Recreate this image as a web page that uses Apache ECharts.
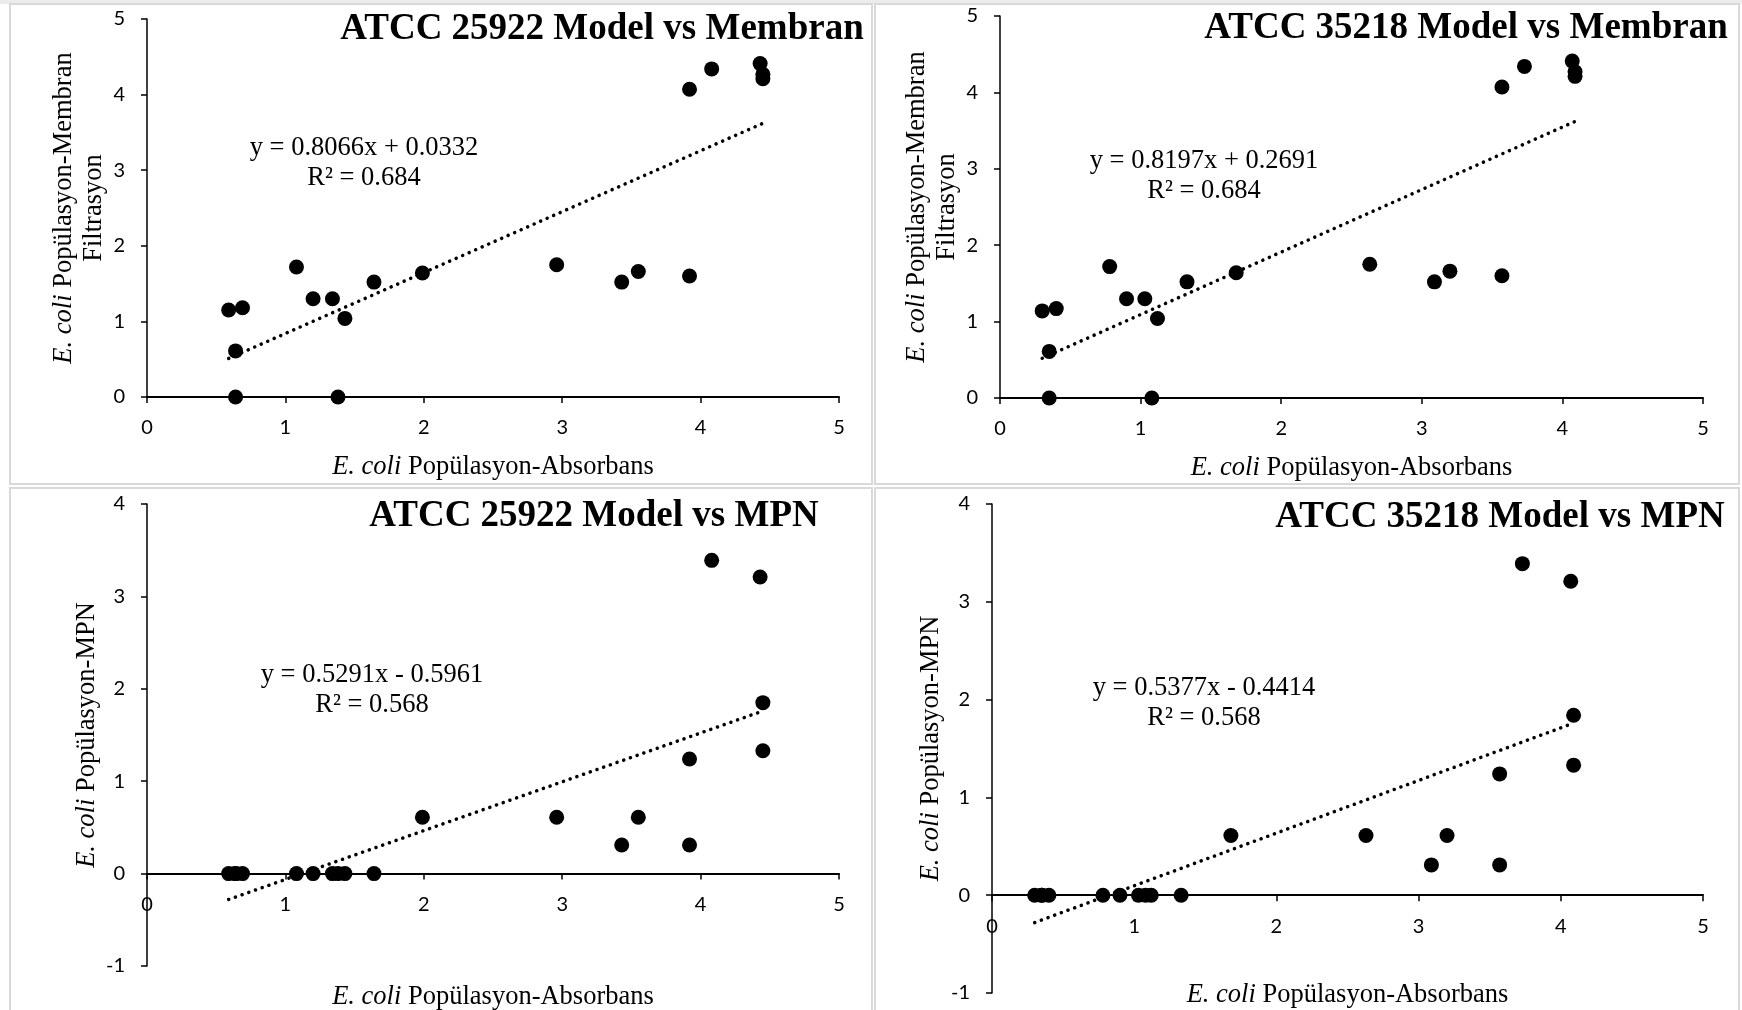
<!DOCTYPE html>
<html>
<head>
	<meta charset="utf-8">
	<title></title>
	<script src="https://cdn.jsdelivr.net/npm/echarts@6/dist/echarts.min.js"></script>
	<style>html, body { margin: 0; background: #fff; }</style>
</head>

<body>
	<div id="main" style="width: 1742px; height: 1010px;"></div>
	<script>

		// ATCC 25922: absorbans model (x), membran filtrasyon and MPN (y)
		var abs25922  = [0.59, 0.64, 0.64, 0.69, 1.08, 1.20, 1.34, 1.38, 1.43, 1.64, 1.99, 2.96, 3.43, 3.55, 3.92, 3.92, 4.08, 4.43, 4.45, 4.45]
		var memb25922 = [1.15, 0.61, 0,    1.18, 1.72, 1.30, 1.30, 0,    1.04, 1.52, 1.64, 1.75, 1.52, 1.66, 1.60, 4.07, 4.34, 4.41, 4.27, 4.21]
		var mpn25922  = [0,    0,    0,    0,    0,    0,    0,    0,    0,    0,    0.61, 0.61, 0.31, 0.61, 0.31, 1.24, 3.39, 3.21, 1.85, 1.33]

		// ATCC 35218
		var abs35218  = [0.30, 0.35, 0.35, 0.40, 0.78, 0.90, 1.03, 1.08, 1.12, 1.33, 1.68, 2.63, 3.09, 3.20, 3.57, 3.57, 3.73, 4.07, 4.09, 4.09]
		var memb35218 = [1.14, 0.61, 0,    1.17, 1.72, 1.30, 1.30, 0,    1.04, 1.52, 1.64, 1.75, 1.52, 1.66, 1.60, 4.07, 4.34, 4.41, 4.27, 4.21]
		var mpn35218  = [0,    0,    0,    0,    0,    0,    0,    0,    0,    0,    0.61, 0.61, 0.31, 0.61, 0.31, 1.24, 3.39, 3.21, 1.84, 1.33]

		// dotted trend lines, end points as drawn
		var trendMemb25922 = [[0.59, 0.51], [4.45, 3.62]]
		var trendMemb35218 = [[0.30, 0.52], [4.09, 3.62]]
		var trendMpn25922  = [[0.59, -0.28], [4.45, 1.76]]
		var trendMpn35218  = [[0.30, -0.28], [4.09, 1.76]]

		var titles = ["ATCC 25922 Model vs Membran", "ATCC 35218 Model vs Membran", "ATCC 25922 Model vs MPN", "ATCC 35218 Model vs MPN"]
		var equations = [
			"y = 0.8066x + 0.0332\nR² = 0.684",
			"y = 0.8197x + 0.2691\nR² = 0.684",
			"y = 0.5291x - 0.5961\nR² = 0.568",
			"y = 0.5377x - 0.4414\nR² = 0.568"
		]
		var xName = "{i|E. coli} Popülasyon-Absorbans"
		var yNames = [
			"{i|E. coli} Popülasyon-Membran\nFiltrasyon",
			"{i|E. coli} Popülasyon-Membran\nFiltrasyon",
			"{i|E. coli} Popülasyon-MPN",
			"{i|E. coli} Popülasyon-MPN"
		]

		function pairs(xs, ys) {
			return xs.map(function (x, i) { return [x, ys[i]] })
		}

		var points = [pairs(abs25922, memb25922), pairs(abs35218, memb35218), pairs(abs25922, mpn25922), pairs(abs35218, mpn35218)]
		var trends = [trendMemb25922, trendMemb35218, trendMpn25922, trendMpn35218]

		// layout of the four panels
		var panels = [
			{ left: 147, top: 19, width: 692, height: 378, ymin: 0, ymax: 5, xGap: 55, yGap: 38, title: [602, 29], eq: [364, 163] },
			{ left: 1000, top: 16, width: 703, height: 382, ymin: 0, ymax: 5, xGap: 55, yGap: 38, title: [1466, 28], eq: [1204, 176] },
			{ left: 147, top: 504, width: 692, height: 462, ymin: -1, ymax: 4, xGap: 108, yGap: 43, title: [594, 516], eq: [372, 690] },
			{ left: 992, top: 504, width: 711, height: 489, ymin: -1, ymax: 4, xGap: 85, yGap: 46, title: [1500, 517], eq: [1204, 703] }
		]

		var serif = '"Liberation Serif", "Times New Roman", serif'
		var nameStyle = {
			fontFamily: serif, fontSize: 26.5, color: "#000", lineHeight: 30,
			rich: { i: { fontFamily: serif, fontSize: 26.5, fontStyle: "italic", color: "#000", lineHeight: 30 } }
		}
		var labelStyle = { fontFamily: "Lato, sans-serif", fontSize: 20, color: "#000" }

		var grids = [], xAxes = [], yAxes = [], series = [], graphics = []

		graphics.push({ type: "rect", shape: { x: 0, y: 0, width: 1742, height: 4 }, style: { fill: "#ececec" } })
		var boxes = [[10, 4, 862, 480], [875, 4, 864, 480], [10, 488, 862, 540], [875, 488, 864, 540]]
		boxes.forEach(function (b) {
			graphics.push({ type: "rect", shape: { x: b[0], y: b[1], width: b[2], height: b[3] }, style: { fill: null, stroke: "#d9d9d9", lineWidth: 2 } })
		})

		panels.forEach(function (p, i) {
			grids.push({ left: p.left, top: p.top, width: p.width, height: p.height, containLabel: false, outerBoundsMode: "none" })
			// x axis sits on y = 0: lift the whole axis (line, ticks, labels, name) there
			var lift = -p.height * (0 - p.ymin) / (p.ymax - p.ymin)
			xAxes.push({
				type: "value", gridIndex: i, min: 0, max: 5, interval: 1, position: "bottom", offset: lift,
				name: xName, nameLocation: "middle", nameGap: p.xGap, nameTextStyle: nameStyle,
				axisLine: { onZero: false, lineStyle: { color: "#000", width: 2 } },
				axisTick: { length: 6, lineStyle: { color: "#000", width: 1.5 } },
				axisLabel: Object.assign({ margin: 21, showMinLabel: true, showMaxLabel: true }, labelStyle),
				splitLine: { show: false }
			})
			yAxes.push({
				type: "value", gridIndex: i, min: p.ymin, max: p.ymax, interval: 1,
				name: yNames[i], nameLocation: "middle", nameGap: p.yGap, nameRotate: 90, nameTextStyle: nameStyle,
				axisLine: { onZero: true, lineStyle: { color: "#000", width: 1.5 } },
				axisTick: { length: 6, lineStyle: { color: "#000", width: 1.5 } },
				axisLabel: Object.assign({ margin: 22, showMinLabel: true, showMaxLabel: true }, labelStyle),
				splitLine: { show: false }
			})
			series.push({
				type: "line", xAxisIndex: i, yAxisIndex: i, data: trends[i],
				symbol: "none", z: 2,
				lineStyle: { color: "#000", width: 3.5, type: [0.1, 7], cap: "round" }
			})
			series.push({
				type: "scatter", xAxisIndex: i, yAxisIndex: i, data: points[i],
				symbol: "circle", symbolSize: 15, itemStyle: { color: "#000", opacity: 1 }, z: 3
			})
			graphics.push({
				type: "text", x: p.title[0], y: p.title[1], z: 10,
				style: { text: titles[i], font: "bold 37px " + serif, fill: "#000", align: "center", verticalAlign: "middle" }
			})
			graphics.push({
				type: "text", x: p.eq[0], y: p.eq[1], z: 10,
				style: { text: equations[i], font: "26.5px " + serif, lineHeight: 30, fill: "#000", align: "center", verticalAlign: "middle" }
			})
		})

		var mCharts = echarts.init(document.getElementById("main"))
		mCharts.setOption({
			animation: false,
			backgroundColor: "#fff",
			grid: grids,
			xAxis: xAxes,
			yAxis: yAxes,
			series: series,
			graphic: graphics
		})

	</script>

</body>
</html>
